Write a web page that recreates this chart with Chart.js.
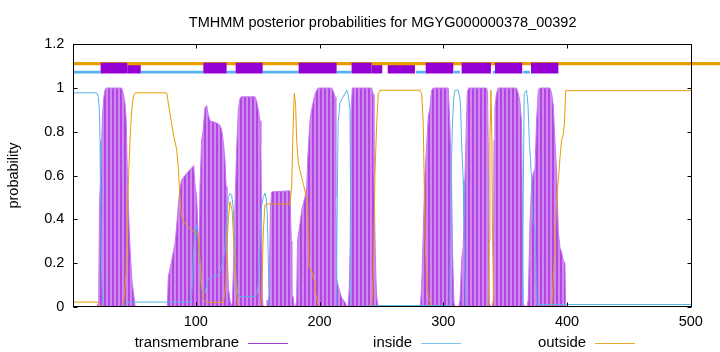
<!DOCTYPE html>
<html><head><meta charset="utf-8">
<script src="https://cdn.jsdelivr.net/npm/chart.js@4.4.1/dist/chart.umd.min.js"></script>
<style>html,body{margin:0;padding:0;background:#fff}</style>
</head><body>
<canvas id="c" width="720" height="352"></canvas>
<script>
const titleText = 'TMHMM posterior probabilities for MGYG000000378_00392';
const yAxisLabel = 'probability';
const xTicks = [100, 200, 300, 400, 500];
const yTicks = [0, 0.2, 0.4, 0.6, 0.8, 1, 1.2];
const xRange = [1, 501];

// transmembrane posterior probability
const tmPos = [1,20,21.5,22.2,23.3,24.5,25.5,26.6,27.5,40,41.4,42.8,43.8,44.7,46.3,47.4,48.4,50,51,
 77,77.8,80.5,83.2,84.5,85.9,87.5,88.6,92.6,96.7,98.3,99.3,100.7,101.8,102.8,103.4,104.7,105.8,107.4,108.8,110,111.5,116.9,119.5,120.9,122.3,123.6,124.5,125.2,126.3,127.2,128.3,129.5,130.3,131.7,133,134.4,135.7,137,147.8,149.2,150.5,151.9,152.6,153.2,153.8,154.5,
 157,157.5,158.2,159.2,160.3,161.3,176.1,177.2,177.6,178.8,179.5,
 180.8,181.5,182.2,184.2,185.6,186.9,188.2,189.6,190.5,191.5,192.3,193.6,195,196.3,197.7,199,209.8,211.2,212.5,213.2,213.9,215.2,217.9,220.6,222,
 223,224,224.8,225.5,226.5,242.1,243.4,244,245,245.8,246.5,247.5,
 281.5,282.5,283.8,285.2,286.5,287.9,289.2,290.6,291.9,304,305.4,306.7,307.5,308.6,309.5,
 312.5,313.5,314.8,316.1,317.5,318.3,319.4,320.5,335,335.8,336.4,337.2,338,
 339.5,340.4,341,341.7,343,344.4,359.2,360.6,361.9,363.3,364.1,364.6,365.5,
 367.5,368.7,370,371.4,372.7,374.1,375.4,376.8,378,386.2,387.6,388.9,390.3,391.6,393,394.3,395.6,397,398.3,398.9,501];
const tmProb = [0,0,0.02,0.48,0.61,0.87,0.95,0.99,1,1,0.975,0.93,0.85,0.6,0.335,0.21,0.12,0.046,0,
 0,0.137,0.21,0.29,0.366,0.47,0.55,0.58,0.61,0.635,0.645,0.56,0.5,0.35,0.3,0.55,0.76,0.8,0.91,0.92,0.88,0.85,0.84,0.83,0.81,0.75,0.67,0.55,0.28,0.09,0.05,0,0.02,0.15,0.46,0.72,0.9,0.953,0.96,0.96,0.94,0.9,0.85,0.75,0.37,0.04,0,
 0,0.03,0.02,0.05,0.45,0.525,0.53,0.3,0.06,0.04,0,
 0,0.03,0.3,0.38,0.44,0.47,0.5,0.55,0.68,0.78,0.85,0.9,0.94,0.97,0.99,1,1,0.985,0.96,0.5,0.13,0.09,0.04,0.02,0,
 0,0.08,0.3,0.9,1,1,0.97,0.6,0.25,0.09,0.03,0,
 0,0.09,0.335,0.61,0.73,0.87,0.91,0.99,1,1,0.82,0.56,0.25,0.02,0,
 0,0.03,0.21,0.27,0.58,0.76,0.98,1,1,0.98,0.7,0.02,0,
 0,0.03,0.76,0.91,0.975,1,1,0.975,0.94,0.84,0.3,0.02,0,
 0,0.03,0.37,0.56,0.61,0.63,0.85,0.99,1,1,0.975,0.92,0.75,0.61,0.34,0.27,0.25,0.21,0.2,0,0];

// inside posterior probability
const inPos = [1,19.9,21.2,22,22.6,23.1,23.9,24.7,25.3,42.8,44.1,46.8,95.5,96.7,98,99.3,100.7,102,103.4,104.7,106.1,107.4,110.1,112.8,116.8,119.5,122.2,123.6,124.9,126.3,127.6,129,130.3,131.1,132.5,133.8,135.7,147.8,149.2,150.5,151.9,152.8,154.6,155.9,157,157.8,158.6,159.4,
 213.5,214.2,215,216.5,218,220.6,222,223.2,224.6,225.2,225.8,247.5,304.8,305.4,306.2,307.5,308.6,309.4,312.1,313.5,314.1,314.8,316.1,316.7,317.5,318.3,
 364.1,364.6,365.4,367.3,368.5,369.5,371.4,372.3,373.5,374.3,375.4,501];
const inProb = [0.978,0.978,0.96,0.91,0.76,0.46,0.15,0.03,0,0,0.015,0.021,0.021,0.06,0.21,0.36,0.373,0.3,0.18,0.09,0.06,0.065,0.125,0.137,0.14,0.16,0.21,0.27,0.4,0.5,0.518,0.51,0.45,0.3,0.13,0.06,0.046,0.046,0.06,0.1,0.3,0.45,0.5,0.52,0.49,0.42,0.2,0,
 0,0.4,0.84,0.93,0.95,0.975,0.99,0.97,0.91,0.4,0,0.005,0.005,0.1,0.58,0.85,0.96,0.99,0.99,0.95,0.9,0.75,0.58,0.4,0.15,0,
 0,0.5,0.975,0.99,0.92,0.76,0.58,0.4,0.37,0.33,0.01,0.01];

// outside posterior probability
const outPos = [1,20.5,22,25,41.4,43.6,44.5,45.7,46.8,48.2,49.5,50.9,76.5,79.1,81.8,84.5,85.8,87.2,88.3,89.4,92.6,96.7,100.7,102,103.4,104.8,106.1,108.8,122.2,124.3,125,126.3,127.6,129.4,130.6,131.7,133,134.4,
 152,153.2,154.6,155.9,157.3,176.1,177.5,178.5,179.6,180.7,181.5,182.9,185.6,186.9,188.2,189.6,190.4,190.9,191.5,193.1,194.2,195.8,196.9,198.5,200.4,
 242.1,243.5,244.8,246.2,247.5,248.9,281.1,282.5,283.8,284.6,285.4,286.5,287.9,290.6,
 336.3,337.1,337.7,338.5,339.3,339.8,340.9,387.6,388.9,390.3,391.6,393,394.3,395.6,397,397.8,398.9,501];
const outProb = [0.021,0.021,0.01,0,0,0.15,0.4,0.6,0.76,0.9,0.96,0.978,0.978,0.884,0.79,0.72,0.64,0.5,0.42,0.396,0.373,0.35,0.336,0.33,0.21,0.09,0.03,0.02,0.02,0.1,0.25,0.4,0.48,0.44,0.3,0.18,0.05,0,
 0,0.05,0.35,0.465,0.47,0.47,0.55,0.8,0.975,0.92,0.76,0.655,0.59,0.56,0.53,0.5,0.47,0.3,0.18,0.17,0.15,0.12,0.06,0.015,0,
 0,0.15,0.61,0.84,0.975,0.99,0.99,0.975,0.84,0.56,0.3,0.12,0.046,0,
 0,0.3,0.76,0.99,0.76,0.3,0,0,0.12,0.3,0.5,0.58,0.68,0.76,0.79,0.83,0.988,0.988];

// predicted topology bars (start, end)
const helixOver = [[23.1,44.6],[106.1,124.9],[132.2,154.0],[183.1,213.8],[225.9,242.1],[285.8,308.1],[314.8,338.5],[341.8,363.8],[370.9,393.0]];
const helixUnder = [[44.6,55.5],[242.1,250.7],[255.1,277.1]];
const insideSegs = [[1,23.1],[55.5,106.1],[124.9,132.2],[154.0,183.1],[213.8,225.9],[277.9,285.8],[308.6,313.5],[340.0,341.8],[364.6,370.0]];
const outsideSegs = [[1,525]];
const levels = {outside: 1.112, helix: 1.091, inside: 1.073};

const COL_TM = '#9400D3', COL_IN = '#56B4E9', COL_OUT = '#E69F00';
const FONT = '"Liberation Sans", Arial, sans-serif';
const FSIZE = 14.5;

function pts(xs, ys){ return xs.map((x,i)=>({x:x, y:ys[i]})); }
function segPts(segs, y){ const out=[]; segs.forEach((s,i)=>{ if(i) out.push({x:(segs[i-1][1]+s[0])/2, y:null}); out.push({x:s[0],y:y},{x:s[1],y:y}); }); return out; }

const canvas = document.getElementById('c');
const ctx0 = canvas.getContext('2d');
const off = document.createElement('canvas'); off.width = 4; off.height = 1;
const og = off.getContext('2d');
og.fillStyle = '#b346e2'; og.fillRect(0,0,2,1);
og.fillStyle = '#d088f1'; og.fillRect(2,0,2,1);
const stripe = ctx0.createPattern(off, 'repeat');

const frameAndLegend = {
  id: 'frameAndLegend',
  afterDatasetsDraw(chart){
    const {ctx, chartArea:a, scales} = chart;
    ctx.save();
    ctx.strokeStyle = '#000'; ctx.lineWidth = 1;
    const L = Math.round(a.left)+0.5, R = Math.round(a.right)-0.5, T = Math.round(a.top)+0.5, B = Math.round(a.bottom)-0.5;
    ctx.beginPath();
    scales.y.ticks.forEach(t=>{ const y = Math.round(scales.y.getPixelForValue(t.value))+0.5; ctx.moveTo(L,y); ctx.lineTo(L+4,y); ctx.moveTo(R,y); ctx.lineTo(R-4,y); });
    scales.x.ticks.forEach(t=>{ const x = Math.round(scales.x.getPixelForValue(t.value))+0.5; ctx.moveTo(x,B); ctx.lineTo(x,B-4); ctx.moveTo(x,T); ctx.lineTo(x,T+4); });
    ctx.stroke();
    ctx.strokeRect(L, T, R-L, B-T);
    // title centred over the plot area
    ctx.fillStyle = '#000';
    ctx.font = FSIZE + 'px ' + FONT;
    ctx.textAlign = 'center'; ctx.textBaseline = 'alphabetic';
    ctx.fillText(titleText, (a.left + a.right)/2, 27);
    // legend (gnuplot-style key: text, then line sample)
    const items = chart.data.datasets.filter(d=>d.legendEntry).sort((p,q)=>p.legendIndex-q.legendIndex);
    const ends = [239, 412, 586];
    ctx.font = '14.9px ' + FONT;
    ctx.textAlign = 'right'; ctx.textBaseline = 'middle';
    items.forEach((d,i)=>{
      ctx.fillStyle = '#000';
      ctx.fillText(d.label, ends[i], 343);
      ctx.strokeStyle = d.legendColor; ctx.lineWidth = 1;
      ctx.beginPath(); ctx.moveTo(ends[i]+9, 343.5); ctx.lineTo(ends[i]+49, 343.5); ctx.stroke();
    });
    ctx.restore();
  }
};

Chart.defaults.font.family = FONT;
Chart.defaults.font.size = FSIZE;
Chart.defaults.color = '#000';

new Chart(canvas, {
  type: 'line',
  data: { datasets: [
    {label:'helixOver', data: segPts(helixOver, levels.helix), borderColor: COL_TM, borderWidth: 10.6, borderCapStyle:'butt', pointRadius:0, spanGaps:false, clip:false, order:1},
    {label:'outsideBar', data: segPts(outsideSegs, levels.outside), borderColor: COL_OUT, borderWidth: 3.2, borderCapStyle:'butt', pointRadius:0, clip:false, order:2},
    {label:'helixUnder', data: segPts(helixUnder, levels.helix), borderColor: COL_TM, borderWidth: 10.6, borderCapStyle:'butt', pointRadius:0, spanGaps:false, clip:false, order:3},
    {label:'insideBar', data: segPts(insideSegs, levels.inside), borderColor: COL_IN, borderWidth: 2.8, borderCapStyle:'butt', pointRadius:0, spanGaps:false, clip:false, order:4},
    {label:'outside', legendEntry:true, legendIndex:2, legendColor:'#E8A830', data: pts(outPos, outProb), borderColor: COL_OUT, borderWidth: 1, pointRadius:0, order:5},
    {label:'inside', legendEntry:true, legendIndex:1, legendColor:'#7cc4ec', data: pts(inPos, inProb), borderColor: COL_IN, borderWidth: 1, pointRadius:0, order:6},
    {label:'transmembrane', legendEntry:true, legendIndex:0, legendColor:'#a040d8', data: pts(tmPos, tmProb), borderColor: '#c47aee', borderWidth: 1, backgroundColor: stripe, fill: 'origin', pointRadius:0, order:7}
  ]},
  options: {
    responsive: false, animation: false, devicePixelRatio: 1,
    layout: {padding: {left:0, right:28, top:44.3, bottom:0}},
    plugins: { legend: {display:false}, tooltip: {enabled:false}, title: {display:false} },
    scales: {
      x: {type:'linear', min:xRange[0], max:xRange[1], grid:{display:false, drawTicks:false}, border:{display:false},
          afterBuildTicks(s){ s.ticks = xTicks.map(v=>({value:v})); },
          afterFit(s){ s.height = 352 - 306.7; },
          ticks:{padding:7, maxRotation:0, autoSkip:false, callback:v=>String(v)}},
      y: {type:'linear', min:0, max:1.2, grid:{display:false, drawTicks:false}, border:{display:false},
          afterBuildTicks(s){ s.ticks = yTicks.map(v=>({value:v})); },
          afterFit(s){ s.width = 73.3; },
          title:{display:true, text:yAxisLabel, font:{size:FSIZE}, padding:{top:5, bottom:0}},
          ticks:{padding:9, autoSkip:false, callback:v=>String(Number(v.toFixed(1)))}}
    }
  },
  plugins: [frameAndLegend]
});
</script>
</body></html>
